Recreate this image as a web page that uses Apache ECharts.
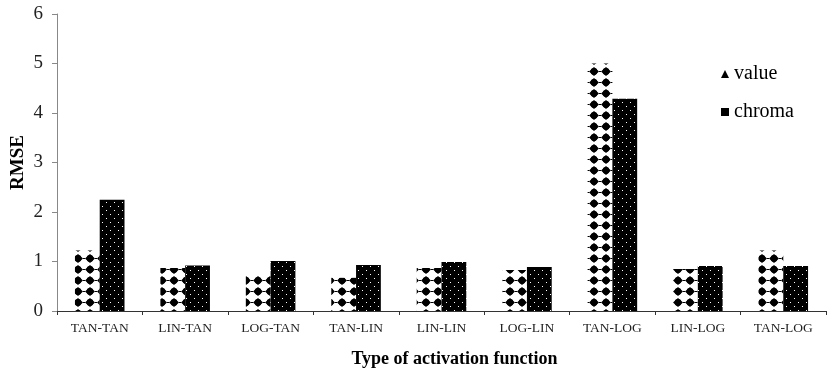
<!DOCTYPE html>
<html>
<head>
<meta charset="utf-8">
<script src="https://cdn.jsdelivr.net/npm/echarts@6/dist/echarts.min.js"></script>
<style>html,body{margin:0;padding:0;background:#fff;}#c{width:827px;height:370px;}</style>
</head>
<body>
<div id="c"></div>
<script>
const categories = ['TAN-TAN','LIN-TAN','LOG-TAN','TAN-LIN','LIN-LIN','LOG-LIN','TAN-LOG','LIN-LOG','TAN-LOG'];
const valueSeries = [1.22, 0.87, 0.75, 0.67, 0.87, 0.83, 5.0, 0.85, 1.22];
const chromaSeries = [2.25, 0.92, 1.01, 0.93, 0.99, 0.89, 4.29, 0.91, 0.91];
const yTicks = [0, 1, 2, 3, 4, 5, 6];

function makeValuePattern() {
  const c = document.createElement('canvas');
  c.width = 12; c.height = 11;
  const g = c.getContext('2d');
  g.fillStyle = '#fff'; g.fillRect(0, 0, 12, 11);
  g.fillStyle = '#000';
  g.beginPath();
  g.moveTo(6, 1); g.lineTo(11, 5.5); g.lineTo(6, 10); g.lineTo(1, 5.5); g.closePath();
  g.fill();
  g.beginPath(); g.arc(6, 5.5, 3.4, 0, Math.PI * 2); g.fill();
  g.fillRect(0, 5, 1, 1); g.fillRect(11, 5, 1, 1);
  return c;
}
function makeChromaPattern() {
  const c = document.createElement('canvas');
  c.width = 8; c.height = 8;
  const g = c.getContext('2d');
  g.fillStyle = '#000'; g.fillRect(0, 0, 8, 8);
  g.fillStyle = '#fff';
  g.fillRect(2, 2, 1, 1); g.fillRect(6, 6, 1, 1);
  return c;
}

const chart = echarts.init(document.getElementById('c'));
chart.setOption({
  animation: false,
  backgroundColor: '#fff',
  grid: { left: 57, right: 1, top: 14, bottom: 59, containLabel: false, outerBoundsMode: 'none' },
  legend: {
    orient: 'vertical', left: 716, top: 59,
    itemWidth: 8, itemHeight: 8, itemGap: 18,
    textStyle: { fontFamily: 'Liberation Serif', fontSize: 20, color: '#000' },
    data: [
      { name: 'value', icon: 'triangle', itemStyle: { color: '#000' } },
      { name: 'chroma', icon: 'rect', itemStyle: { color: '#000' } }
    ]
  },
  xAxis: {
    type: 'category', data: categories,
    name: 'Type of activation function', nameLocation: 'middle', nameGap: 39,
    nameTextStyle: { fontFamily: 'Liberation Serif', fontSize: 18, fontWeight: 'bold', color: '#000', padding: [0, 0, 0, 26] },
    axisLine: { lineStyle: { color: '#333', width: 1 } },
    axisTick: { show: true, length: 4, lineStyle: { color: '#333' } },
    axisLabel: { fontFamily: 'Liberation Serif', fontSize: 13.5, color: '#222', margin: 10 }
  },
  yAxis: {
    type: 'value', min: yTicks[0], max: yTicks[yTicks.length - 1], interval: 1,
    name: 'RMSE', nameLocation: 'middle', nameGap: 29, nameMoveOverlap: false,
    nameTextStyle: { fontFamily: 'Liberation Serif', fontSize: 19, fontWeight: 'bold', color: '#000' },
    axisLine: { show: true, lineStyle: { color: '#888', width: 1 } },
    axisTick: { show: true, length: 5, lineStyle: { color: '#888' } },
    splitLine: { show: false },
    axisLabel: { fontFamily: 'Liberation Serif', fontSize: 19, color: '#222', margin: 14 }
  },
  series: [
    { name: 'value', type: 'bar', data: valueSeries, barGap: '0%', barCategoryGap: '42%',
      itemStyle: { color: { image: makeValuePattern(), repeat: 'repeat' } } },
    { name: 'chroma', type: 'bar', data: chromaSeries,
      itemStyle: { color: { image: makeChromaPattern(), repeat: 'repeat' } } }
  ]
});
</script>
</body>
</html>
